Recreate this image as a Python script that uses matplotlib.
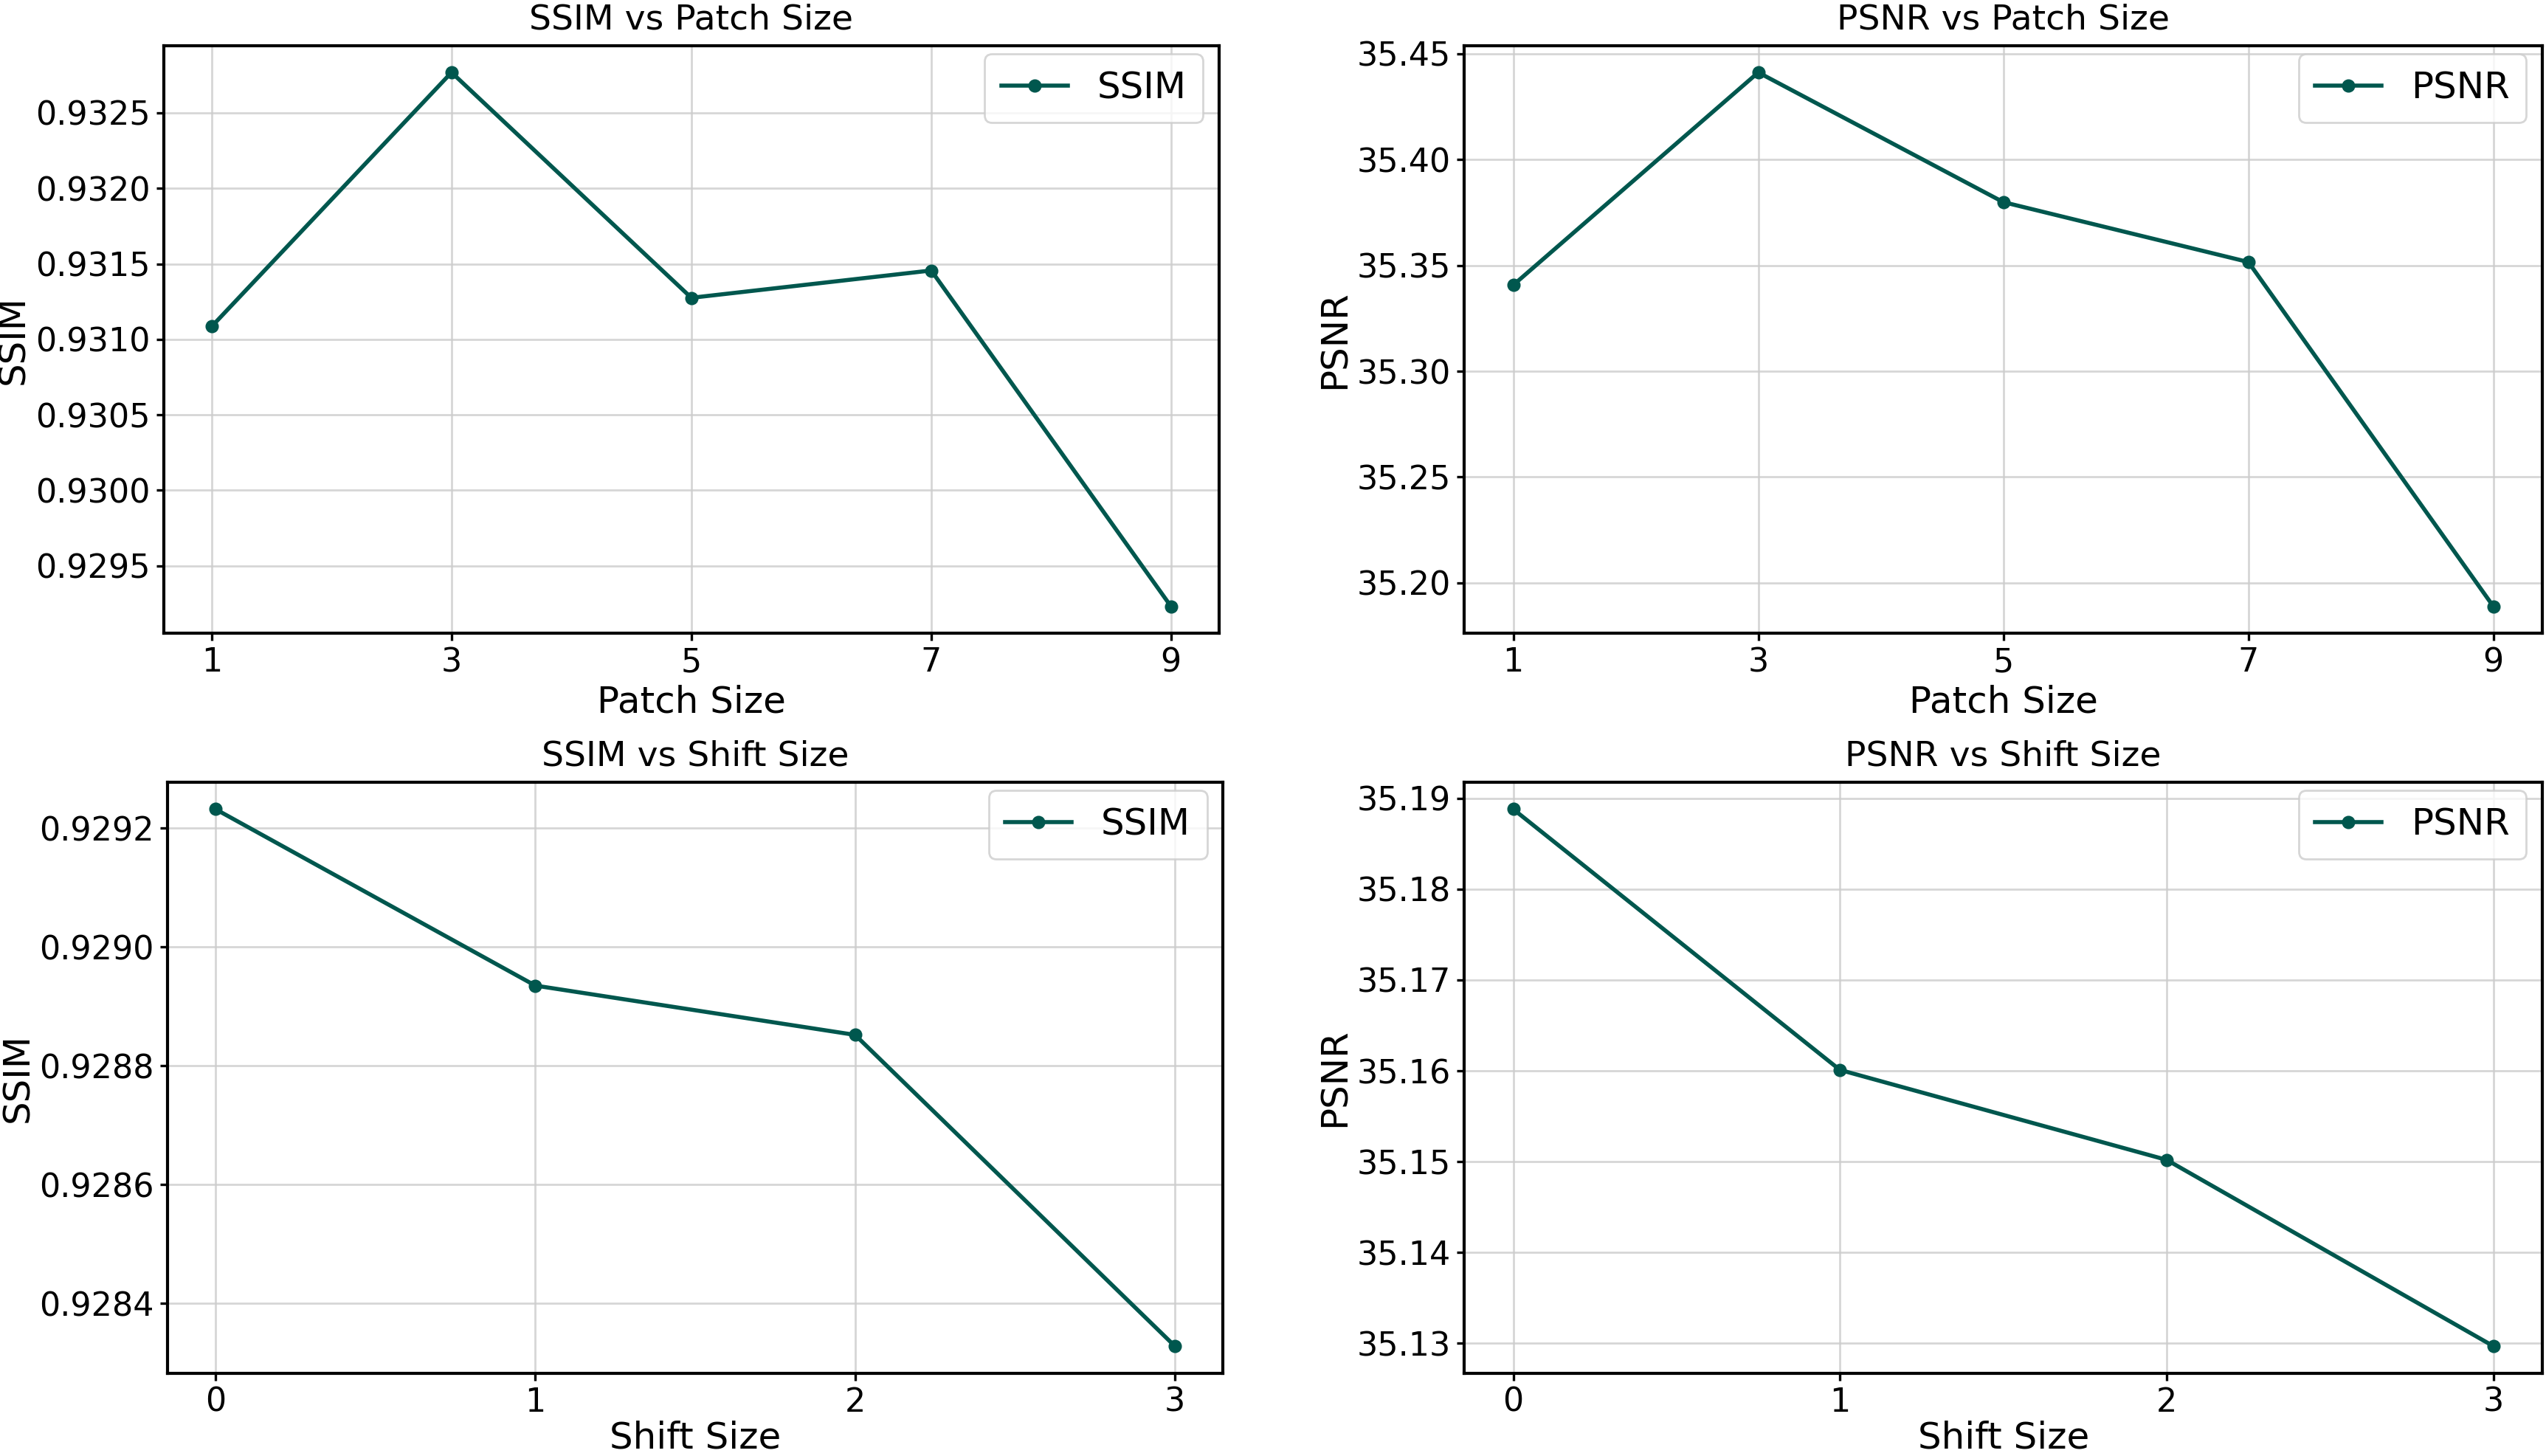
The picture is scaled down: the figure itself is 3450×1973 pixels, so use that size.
import matplotlib
matplotlib.use("Agg")
import matplotlib.pyplot as plt

patch_sizes = [1, 3, 5, 7, 9]
ssim_patch = [0.931085, 0.932768, 0.931275, 0.931456, 0.92923]
psnr_patch = [35.3407, 35.4412, 35.3799, 35.3516, 35.1888]

shift_sizes = [0, 1, 2, 3]
ssim_shift = [0.929232, 0.928935, 0.928852, 0.928328]
psnr_shift = [35.1888, 35.1601, 35.1502, 35.1297]

color = "#00574e"

fig = plt.figure(figsize=(17.25, 9.865), dpi=200)
positions = {
    "tl": [0.0643, 0.5651, 0.4145, 0.4035],
    "tr": [0.5751, 0.5651, 0.4235, 0.4035],
    "bl": [0.0658, 0.0570, 0.4145, 0.4057],
    "br": [0.5751, 0.0570, 0.4235, 0.4057],
}

panels = [
    ("tl", patch_sizes, ssim_patch, "SSIM", "Patch Size", "SSIM vs Patch Size", "{:.4f}", 3),
    ("tr", patch_sizes, psnr_patch, "PSNR", "Patch Size", "PSNR vs Patch Size", "{:.2f}", 3),
    ("bl", shift_sizes, ssim_shift, "SSIM", "Shift Size", "SSIM vs Shift Size", "{:.4f}", 1),
    ("br", shift_sizes, psnr_shift, "PSNR", "Shift Size", "PSNR vs Shift Size", "{:.2f}", 1),
]

for key, xs, ys, label, xlabel, title, fmt, xpad in panels:
    ax = fig.add_axes(positions[key])
    ax.plot(xs, ys, marker="o", color=color, linewidth=2, markersize=5.5, label=label)
    ax.set_xticks(xs)
    ax.set_title(title, fontsize=17, pad=8)
    ax.set_xlabel(xlabel, fontsize=18, labelpad=xpad)
    ax.set_ylabel(label, fontsize=18, labelpad=2)
    ax.tick_params(labelsize=16, width=1.2, length=3.5, pad=3)
    ax.grid(True, color="#cccccc", alpha=0.8, linewidth=1)
    for s in ax.spines.values():
        s.set_linewidth(1.5)
    ax.yaxis.set_major_formatter(matplotlib.ticker.FuncFormatter(lambda v, p, f=fmt: f.format(v)))
    ax.legend(loc="upper right", bbox_to_anchor=(0.985, 0.986), fontsize=18,
              borderpad=0.45, borderaxespad=0.0, handlelength=1.8)

fig.savefig("out.png", dpi=200)
